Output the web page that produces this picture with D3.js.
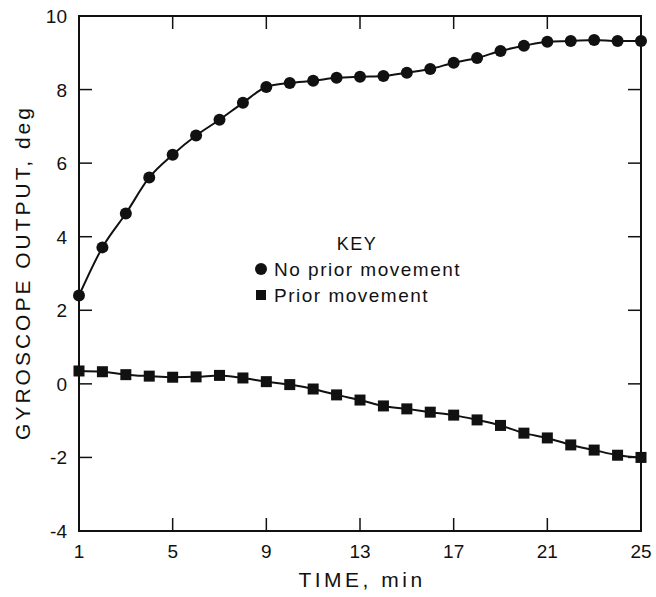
<!DOCTYPE html>
<html>
<head>
<meta charset="utf-8">
<script src="https://cdn.jsdelivr.net/npm/d3@7"></script>
<style>
  body { margin: 0; background: #fff; }
  text { font-family: "Liberation Sans", Arial, sans-serif; fill: #111; }
</style>
</head>
<body>
<svg id="chart"></svg>
<script>
// time in minutes
var minutes = d3.range(1, 26);
// gyroscope output, deg
var noPrior = [2.4, 3.71, 4.63, 5.61, 6.23, 6.75, 7.18, 7.64, 8.07, 8.18, 8.24, 8.32, 8.35, 8.37,
               8.46, 8.56, 8.73, 8.86, 9.05, 9.19, 9.30, 9.32, 9.35, 9.32, 9.32];
var prior = [0.35, 0.33, 0.25, 0.21, 0.18, 0.19, 0.23, 0.16, 0.06, -0.02, -0.14, -0.30, -0.44, -0.60,
             -0.68, -0.77, -0.85, -0.98, -1.13, -1.34, -1.47, -1.66, -1.80, -1.94, -2.0];
var xTicks = [1, 5, 9, 13, 17, 21, 25];
var yTicks = [-4, -2, 0, 2, 4, 6, 8, 10];

var screen = {width: 656, height: 597};
var margins = {top: 16, bottom: 66, left: 79, right: 15};

var svg = d3.select("#chart")
    .attr("width", screen.width)
    .attr("height", screen.height);

var xScale = d3.scaleLinear()
    .domain([1, 25])
    .range([margins.left, screen.width - margins.right]);

var yScale = d3.scaleLinear()
    .domain([-4, 10])
    .range([screen.height - margins.bottom, margins.top]);

var x0 = xScale(1), x1 = xScale(25), y0 = yScale(-4), y1 = yScale(10);

// frame
svg.append("rect")
    .attr("x", x0).attr("y", y1)
    .attr("width", x1 - x0).attr("height", y0 - y1)
    .style("fill", "none").style("stroke", "#111").style("stroke-width", 2);

var tickLen = 13;

// bottom + top ticks (inward)
svg.selectAll(".xtick")
    .data(xTicks.slice(1, -1))
    .enter()
    .append("g")
    .each(function(d) {
        var g = d3.select(this);
        g.append("line").attr("x1", xScale(d)).attr("x2", xScale(d))
            .attr("y1", y0).attr("y2", y0 - tickLen);
        g.append("line").attr("x1", xScale(d)).attr("x2", xScale(d))
            .attr("y1", y1).attr("y2", y1 + tickLen);
    })
    .selectAll("line")
    .style("stroke", "#111").style("stroke-width", 1.5);

svg.selectAll(".xlabel")
    .data(xTicks)
    .enter()
    .append("text")
    .attr("x", function(d) { return xScale(d); })
    .attr("y", y0 + 27)
    .attr("text-anchor", "middle")
    .style("font-size", "19px")
    .text(function(d) { return d; });

// left + right ticks
svg.selectAll(".ytick")
    .data(yTicks.slice(1, -1))
    .enter()
    .append("g")
    .each(function(d) {
        var g = d3.select(this);
        g.append("line").attr("x1", x0).attr("x2", x0 + tickLen)
            .attr("y1", yScale(d)).attr("y2", yScale(d));
        g.append("line").attr("x1", x1).attr("x2", x1 - tickLen)
            .attr("y1", yScale(d)).attr("y2", yScale(d));
    })
    .selectAll("line")
    .style("stroke", "#111").style("stroke-width", 1.5);

svg.selectAll(".ylabel")
    .data(yTicks)
    .enter()
    .append("text")
    .attr("x", x0 - 12)
    .attr("y", function(d) { return yScale(d) + 7; })
    .attr("text-anchor", "end")
    .style("font-size", "19px")
    .text(function(d) { return d; });

// axis titles
svg.append("text")
    .attr("x", (x0 + x1) / 2 + 2)
    .attr("y", 587)
    .attr("text-anchor", "middle")
    .style("font-size", "21px")
    .style("letter-spacing", "3.5px")
    .text("TIME, min");

svg.append("text")
    .attr("transform", "translate(30," + ((y0 + y1) / 2 - 1) + ") rotate(-90)")
    .attr("text-anchor", "middle")
    .style("font-size", "21px")
    .style("letter-spacing", "3px")
    .text("GYROSCOPE OUTPUT, deg");

// lines
var line = d3.line()
    .x(function(d) { return xScale(d[0]); })
    .y(function(d) { return yScale(d[1]); })
    .curve(d3.curveMonotoneX);

var series = [
    {values: noPrior, shape: "circle"},
    {values: prior, shape: "square"}
];

series.forEach(function(s) {
    var pts = minutes.map(function(m, i) { return [m, s.values[i]]; });
    svg.append("path")
        .datum(pts)
        .attr("d", line)
        .style("fill", "none").style("stroke", "#111").style("stroke-width", 2);

    if (s.shape == "circle") {
        svg.selectAll(".dot")
            .data(pts)
            .enter()
            .append("circle")
            .attr("cx", function(d) { return xScale(d[0]); })
            .attr("cy", function(d) { return yScale(d[1]); })
            .attr("r", 6)
            .style("fill", "#111");
    } else {
        svg.selectAll(".sq")
            .data(pts)
            .enter()
            .append("rect")
            .attr("x", function(d) { return xScale(d[0]) - 5.5; })
            .attr("y", function(d) { return yScale(d[1]) - 5.5; })
            .attr("width", 11).attr("height", 11)
            .style("fill", "#111");
    }
});

// key
svg.append("text")
    .attr("x", 357).attr("y", 250)
    .attr("text-anchor", "middle")
    .style("font-size", "18px")
    .style("letter-spacing", "1.5px")
    .text("KEY");

svg.append("circle").attr("cx", 261).attr("cy", 269).attr("r", 6).style("fill", "#111");
svg.append("text")
    .attr("x", 274).attr("y", 276)
    .style("font-size", "19px")
    .style("letter-spacing", "1.5px")
    .text("No prior movement");

svg.append("rect").attr("x", 256).attr("y", 290).attr("width", 10).attr("height", 10).style("fill", "#111");
svg.append("text")
    .attr("x", 274).attr("y", 302)
    .style("font-size", "19px")
    .style("letter-spacing", "1.5px")
    .text("Prior movement");
</script>
</body>
</html>
